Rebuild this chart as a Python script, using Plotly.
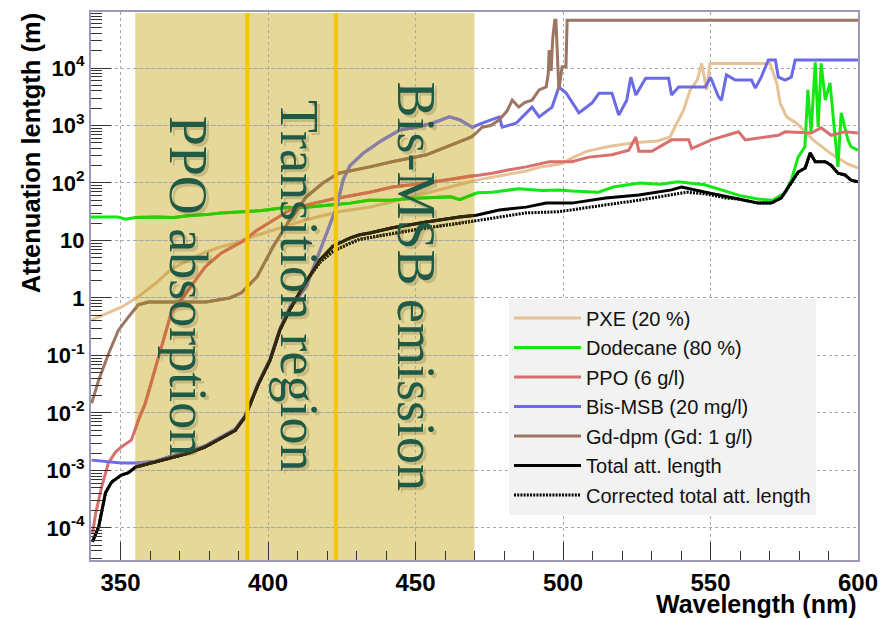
import numpy as np
import plotly.graph_objects as go

# ---------------- data ----------------
# wavelengths in nm, values as log10 of attenuation length in m
pxe_wl = [340.2, 346.0, 350.3, 356.0, 362.0, 367.0, 373.0, 379.0, 384.0, 390.0, 393.0, 401.7, 413.0, 424.0, 434.5,
          442.0, 454.0, 465.0, 470.6, 476.0, 487.5, 492.4, 499.0, 504.0, 508.0, 515.0, 524.0, 532.0, 536.3, 538.6,
          540.9, 543.1, 545.5, 547.0, 548.7, 549.8, 570.2, 572.5, 573.6, 575.8, 579.2, 584.8, 590.5, 596.2, 600.0]
pxe_log = [-0.38, -0.26, -0.16, 0.02, 0.26, 0.49, 0.66, 0.80, 0.89, 0.97, 1.04, 1.18, 1.36, 1.50, 1.58,
           1.67, 1.83, 1.97, 2.05, 2.10, 2.21, 2.28, 2.33, 2.46, 2.55, 2.63, 2.70, 2.73, 2.80, 3.04,
           3.27, 3.62, 3.79, 4.08, 3.62, 4.08, 4.08, 3.73, 3.39, 3.15, 3.04, 2.75, 2.52, 2.34, 2.26]

dod_wl = [340.0, 345.0, 349.0, 351.7, 355.0, 362.0, 368.0, 373.0, 379.0, 384.0, 392.0, 398.0, 405.0, 413.0, 422.0,
          428.0, 434.0, 442.0, 448.0, 454.0, 462.0, 465.0, 471.0, 476.0, 485.0, 493.0, 498.6, 503.0, 512.0, 517.0,
          526.0, 533.0, 539.0, 548.0, 555.0, 560.0, 566.0, 571.0, 575.3, 577.4, 579.7, 582.0, 583.0, 584.1, 585.5,
          586.5, 587.5, 588.9, 590.5, 592.2, 593.2, 594.3, 595.6, 596.6, 597.6, 600.0]
dod_log = [1.41, 1.41, 1.41, 1.37, 1.40, 1.41, 1.40, 1.43, 1.45, 1.48, 1.50, 1.52, 1.57, 1.58, 1.62,
           1.65, 1.70, 1.70, 1.73, 1.74, 1.76, 1.71, 1.83, 1.84, 1.90, 1.87, 1.88, 1.86, 1.84, 1.93,
           2.00, 1.98, 2.02, 1.97, 1.86, 1.78, 1.72, 1.70, 1.83, 2.05, 2.45, 2.63, 3.62, 2.87, 4.10,
           2.97, 4.08, 3.44, 3.74, 2.75, 2.28, 3.22, 2.97, 2.75, 2.63, 2.57]

ppo_wl = [340.5, 341.6, 343.6, 345.9, 348.3, 350.3, 353.7, 356.1, 358.4, 360.5, 363.9, 367.2, 373.0, 378.7, 384.1,
          389.9, 392.2, 396.3, 402.0, 407.4, 413.2, 422.0, 434.5, 442.2, 453.7, 464.9, 476.0, 481.8, 487.5, 495.3,
          503.0, 508.8, 516.6, 522.3, 524.7, 525.7, 530.1, 536.8, 542.6, 543.6, 550.3, 559.5, 561.8, 573.0, 575.3,
          584.1, 587.5, 590.9, 595.6, 600.0]
ppo_log = [-4.10, -3.74, -3.29, -2.87, -2.68, -2.59, -2.47, -2.12, -1.83, -1.45, -0.85, -0.26, 0.14, 0.54, 0.78,
           0.94, 1.01, 1.18, 1.36, 1.53, 1.62, 1.72, 1.84, 1.93, 2.00, 2.09, 2.17, 2.23, 2.28, 2.37,
           2.37, 2.45, 2.49, 2.57, 2.80, 2.55, 2.55, 2.75, 2.75, 2.60, 2.75, 2.89, 2.75, 2.83, 2.89,
           2.87, 2.96, 2.83, 2.89, 2.87]

bis_wl = [340.2, 350.3, 356.0, 361.8, 367.2, 373.0, 378.7, 384.1, 388.9, 392.2, 394.3, 396.6, 400.7, 404.0, 407.4,
          409.5, 413.1, 416.5, 419.9, 423.3, 425.5, 427.8, 432.3, 434.6, 438.9, 444.6, 450.3, 455.7, 461.5, 464.9,
          469.3, 472.6, 476.0, 478.4, 479.4, 484.1, 489.5, 491.9, 496.3, 498.6, 501.0, 505.4, 509.8, 512.2, 516.6,
          518.9, 521.6, 523.0, 524.7, 528.0, 535.8, 536.8, 539.2, 548.3, 550.0, 552.7, 553.7, 555.4, 558.4, 563.9,
          565.2, 567.2, 569.6, 572.0, 573.0, 575.3, 577.4, 578.7, 600.0]
bis_log = [-2.82, -2.87, -2.87, -2.84, -2.75, -2.68, -2.57, -2.41, -2.28, -2.05, -1.79, -1.49, -1.06, -0.54, -0.15,
           -0.05, 0.22, 0.66, 1.13, 1.59, 2.06, 2.30, 2.52, 2.60, 2.75, 2.92, 2.97, 3.04, 3.15, 3.10,
           2.97, 3.04, 3.10, 3.15, 2.97, 3.04, 3.32, 3.15, 3.32, 3.67, 3.57, 3.22, 3.39, 3.56, 3.56,
           3.18, 3.44, 3.84, 3.53, 3.82, 3.82, 3.53, 3.67, 3.67, 3.84, 3.50, 3.44, 3.88, 3.79, 3.79,
           3.65, 3.84, 4.14, 4.14, 3.84, 3.79, 3.84, 4.14, 4.14]

gd_wl = [340.2, 342.6, 346.0, 349.3, 352.7, 356.0, 359.5, 367.0, 379.0, 387.0, 391.0, 396.3, 401.7, 407.4, 413.0,
         418.6, 424.0, 434.5, 442.0, 453.7, 465.0, 469.0, 470.6, 472.6, 475.5, 478.4, 481.0, 482.8, 485.0, 487.0,
         489.5, 491.9, 494.3, 495.0, 495.3, 496.0, 496.5, 497.2, 497.6, 498.2, 498.6, 499.7, 501.0, 501.4, 600.0]
gd_log = [-1.83, -1.43, -0.96, -0.56, -0.33, -0.12, -0.07, -0.07, -0.07, 0.00, 0.09, 0.37, 0.89, 1.36, 1.76,
          2.00, 2.17, 2.28, 2.37, 2.49, 2.71, 2.80, 2.87, 2.97, 3.00, 3.10, 3.25, 3.44, 3.32, 3.40,
          3.44, 3.62, 3.67, 3.90, 4.31, 3.95, 4.50, 4.83, 4.83, 3.90, 3.62, 4.02, 4.02, 4.83, 4.83]

tot_wl = [340.5, 342.6, 344.9, 347.0, 350.3, 352.7, 355.1, 361.8, 367.2, 373.0, 378.7, 384.1, 388.9, 392.2, 394.3,
          396.6, 400.7, 404.0, 407.4, 413.2, 417.6, 422.0, 427.7, 431.1, 434.5, 442.2, 453.7, 464.9, 470.6, 478.4,
          487.5, 494.3, 498.6, 503.0, 514.5, 525.7, 536.8, 540.2, 548.3, 555.1, 559.5, 566.2, 570.6, 574.0, 577.4,
          579.7, 582.1, 583.8, 585.5, 588.9, 590.9, 593.2, 595.6, 597.6, 600.0]
tot_log = [-4.24, -3.98, -3.39, -3.20, -3.08, -3.04, -2.94, -2.85, -2.77, -2.70, -2.59, -2.43, -2.30, -2.07, -1.81,
           -1.51, -1.08, -0.56, -0.20, 0.31, 0.66, 0.90, 1.04, 1.10, 1.13, 1.22, 1.32, 1.41, 1.44, 1.53,
           1.58, 1.65, 1.65, 1.65, 1.74, 1.79, 1.88, 1.93, 1.84, 1.76, 1.72, 1.65, 1.65, 1.74, 2.00,
           2.19, 2.26, 2.52, 2.37, 2.37, 2.31, 2.17, 2.14, 2.05, 2.02]

cor_wl = [340.5, 342.6, 344.9, 347.0, 350.3, 352.7, 355.1, 361.8, 367.2, 373.0, 378.7, 384.1, 388.9, 392.2, 394.3,
          396.6, 400.7, 404.0, 407.4, 413.2, 417.6, 422.0, 427.7, 431.1, 442.2, 453.7, 464.9, 476.0, 487.5, 498.6,
          503.0, 514.5, 525.7, 536.8, 542.0, 548.3, 555.1, 559.5, 566.2, 570.6, 574.0, 577.4, 579.7, 582.1, 583.8,
          585.5, 588.9, 590.9, 593.2, 595.6, 597.6, 600.0]
cor_log = [-4.24, -3.98, -3.39, -3.20, -3.08, -3.04, -2.94, -2.85, -2.77, -2.70, -2.59, -2.43, -2.30, -2.07, -1.81,
           -1.51, -1.08, -0.56, -0.20, 0.31, 0.62, 0.81, 0.95, 1.02, 1.12, 1.22, 1.30, 1.39, 1.48, 1.50,
           1.53, 1.62, 1.70, 1.79, 1.84, 1.81, 1.74, 1.72, 1.65, 1.65, 1.74, 2.00, 2.19, 2.26, 2.52,
           2.37, 2.37, 2.31, 2.17, 2.14, 2.05, 2.02]

series_names = ["PXE (20 %)", "Dodecane (80 %)", "PPO (6 g/l)", "Bis-MSB (20 mg/l)",
                "Gd-dpm (Gd: 1 g/l)", "Total att. length", "Corrected total att. length"]

region_labels = ["PPO absorption", "Transition region", "Bis-MSB emission"]
region_label_wl = [373.0, 410.5, 450.0]
shade_wl = [355.0, 470.0]
boundary_wl = [393.0, 423.0]

y_tick_vals = [1e-4, 1e-3, 1e-2, 1e-1, 1, 10, 1e2, 1e3, 1e4]
y_tick_text = ["10<sup>-4</sup>", "10<sup>-3</sup>", "10<sup>-2</sup>", "10<sup>-1</sup>", "1", "10",
               "10<sup>2</sup>", "10<sup>3</sup>", "10<sup>4</sup>"]
x_range = [340.0, 600.0]

# ---------------- styling ----------------
colors = ["#e6c396", "#12e812", "#d9706e", "#6b6be6", "#9c7563", "#000000", "#000000"]
tinted = ["#d6b061", "#35c800", "#cf7446", "#8a80a2", "#9f7c46", "#30280a", "#30280a"]
dashes = ["solid"] * 6 + ["2px,1.2px"]
ranks = [1, 2, 3, 4, 5, 6, 7]

wls = [pxe_wl, dod_wl, ppo_wl, bis_wl, gd_wl, cor_wl, tot_wl]
logs = [pxe_log, dod_log, ppo_log, bis_log, gd_log, cor_log, tot_log]
order_idx = [0, 1, 2, 3, 4, 6, 5]

fig = go.Figure()
for wl, lg, ci in zip(wls, logs, order_idx):
    nm = series_names[ci]
    fig.add_trace(go.Scatter(
        x=wl, y=10 ** np.array(lg), mode="lines", name=nm,
        line=dict(color=colors[ci], width=3, dash=dashes[ci]),
        legendrank=ranks[ci], legendgroup=nm, xaxis="x", yaxis="y"))
# same curves, tinted, clipped to the shaded band (second x axis covering only the band)
for wl, lg, ci in zip(wls, logs, order_idx):
    nm = series_names[ci]
    fig.add_trace(go.Scatter(
        x=wl, y=10 ** np.array(lg), mode="lines", name=nm, showlegend=False,
        line=dict(color=tinted[ci], width=3, dash=dashes[ci]),
        legendgroup=nm, xaxis="x2", yaxis="y", hoverinfo="skip"))

span = x_range[1] - x_range[0]
d0 = (shade_wl[0] - x_range[0]) / span
d1 = (shade_wl[1] - x_range[0]) / span

tickfont = dict(family="Liberation Sans", size=24, color="black", weight="bold")
fig.update_layout(
    width=881, height=619,
    margin=dict(l=91, r=23, t=12, b=59, autoexpand=False),
    paper_bgcolor="white", plot_bgcolor="rgba(0,0,0,0)",
    showlegend=True,
    legend=dict(x=0.545, y=0.477, xanchor="left", yanchor="top",
                bgcolor="#f2f2f2", borderwidth=0, traceorder="grouped",
                tracegroupgap=0.5, itemwidth=67,
                font=dict(family="Liberation Sans", size=20, color="#111111")),
    xaxis=dict(range=x_range, domain=[0, 1], tick0=350, dtick=50, ticks="inside", ticklen=18,
               tickcolor="#333333", tickfont=tickfont, showgrid=True, gridcolor="#a8a8a8",
               griddash="dot", gridwidth=1, zeroline=False, showline=True, linecolor="#9a9ab8",
               linewidth=2, mirror=True, automargin=False,
               minor=dict(ticks="inside", ticklen=9, dtick=10, tickcolor="#333333", showgrid=False)),
    xaxis2=dict(range=shade_wl, domain=[d0, d1], anchor="y", visible=False, showgrid=False,
                zeroline=False, automargin=False),
    yaxis=dict(type="log", range=[-4.557, 4.974], tickmode="array", tickvals=y_tick_vals,
               ticktext=y_tick_text, ticks="inside", ticklen=20, tickcolor="#333333",
               tickfont=dict(family="Liberation Sans", size=22, color="black", weight="bold"),
               ticklabelstandoff=0, automargin=False,
               showgrid=True, gridcolor="#a8a8a8", griddash="dot", gridwidth=1, zeroline=False,
               showline=True, linecolor="#9a9ab8", linewidth=2, mirror=True,
               minor=dict(ticks="inside", ticklen=11, dtick="D1", tickcolor="#333333", showgrid=False)),
)

# shaded band (below grid) and boundary lines
fig.add_shape(type="rect", xref="x", yref="paper", x0=shade_wl[0], x1=shade_wl[1], y0=0, y1=0.998,
              fillcolor="#e5d899", line=dict(width=0), layer="below")
for b in boundary_wl:
    fig.add_shape(type="line", xref="x", yref="paper", x0=b, x1=b, y0=0, y1=0.998,
                  line=dict(color="#f7c600", width=4), layer="above")

for lab, wl in zip(region_labels, region_label_wl):
    fig.add_annotation(x=wl, y=0.5, xref="x", yref="paper", text=lab, showarrow=False,
                       textangle=90, xshift=3, yshift=-3,
                       font=dict(family="Liberation Serif", size=54, color="rgba(90,80,40,0.22)"))
    fig.add_annotation(x=wl, y=0.5, xref="x", yref="paper", text=lab, showarrow=False,
                       textangle=90,
                       font=dict(family="Liberation Serif", size=54, color="#1e5a45"))

fig.add_annotation(x=1.0, y=-0.081, xref="paper", yref="paper", text="Wavelength (nm)",
                   showarrow=False, xanchor="right", yanchor="middle",
                   font=dict(family="Liberation Sans", size=25, color="black", weight="bold"))
fig.add_annotation(x=-0.079, y=1.002, xref="paper", yref="paper", text="Attenuation lentgth (m)",
                   showarrow=False, textangle=-90, xanchor="center", yanchor="top",
                   font=dict(family="Liberation Sans", size=25.5, color="black", weight="bold"))

fig.write_html("out.html", config={"displayModeBar": False},
               post_script="document.body.style.margin='0';document.body.style.overflow='hidden';")
